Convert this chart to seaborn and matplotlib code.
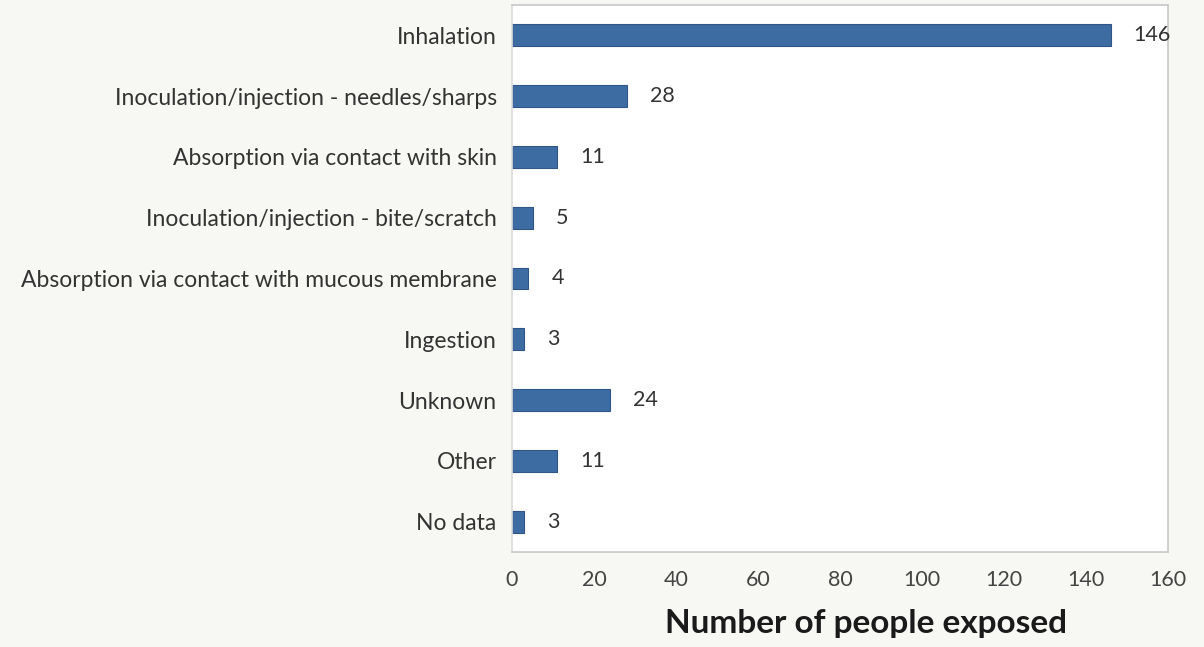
import matplotlib
matplotlib.use("Agg")
import matplotlib.pyplot as plt
import seaborn as sns
import pandas as pd

categories = [
    "Inhalation",
    "Inoculation/injection - needles/sharps",
    "Absorption via contact with skin",
    "Inoculation/injection - bite/scratch",
    "Absorption via contact with mucous membrane",
    "Ingestion",
    "Unknown",
    "Other",
    "No data",
]
values = [146, 28, 11, 5, 4, 3, 24, 11, 3]
x_ticks = [0, 20, 40, 60, 80, 100, 120, 140, 160]
x_label = "Number of people exposed"

sns.set_theme(style="white")
plt.rcParams["font.family"] = ["Lato", "DejaVu Sans"]

W, H = 1204, 647
fig = plt.figure(figsize=(W / 100, H / 100), dpi=100)
fig.patch.set_facecolor("#f7f7f3")
left, right, top, bottom = 512, 1168, 5, 552
ax = fig.add_axes([left / W, 1 - bottom / H, (right - left) / W, (bottom - top) / H])
ax.set_facecolor("white")

df = pd.DataFrame({"cat": categories, "val": values})
sns.barplot(data=df, x="val", y="cat", orient="h", color="#3d6ca3",
            saturation=1, width=0.36, edgecolor="#2f5686", linewidth=0.8, ax=ax)

for i, v in enumerate(values):
    ax.annotate(str(v), xy=(v, i), xytext=(23, 0), textcoords="offset pixels",
                va="center", ha="left", fontsize=15.5, color="#333333")

ax.set_xlim(0, 160)
ax.set_xticks(x_ticks)
ax.set_xticklabels([str(t) for t in x_ticks])
ax.tick_params(axis="x", length=0, pad=13, labelsize=15.5, labelcolor="#444444")
ax.tick_params(axis="y", length=0, pad=11, labelsize=16.5, labelcolor="#333333")
ax.set_ylabel("")
ax.set_xlabel(x_label, fontsize=24, fontweight="bold", color="#1a1a1a",
              labelpad=14, x=(866 - left) / (right - left))

for s in ax.spines.values():
    s.set_color("#c8c8c8")
    s.set_linewidth(1.2)
ax.spines["left"].set_color("#dcdcdc")

fig.savefig("out.png", dpi=100, facecolor=fig.get_facecolor())
